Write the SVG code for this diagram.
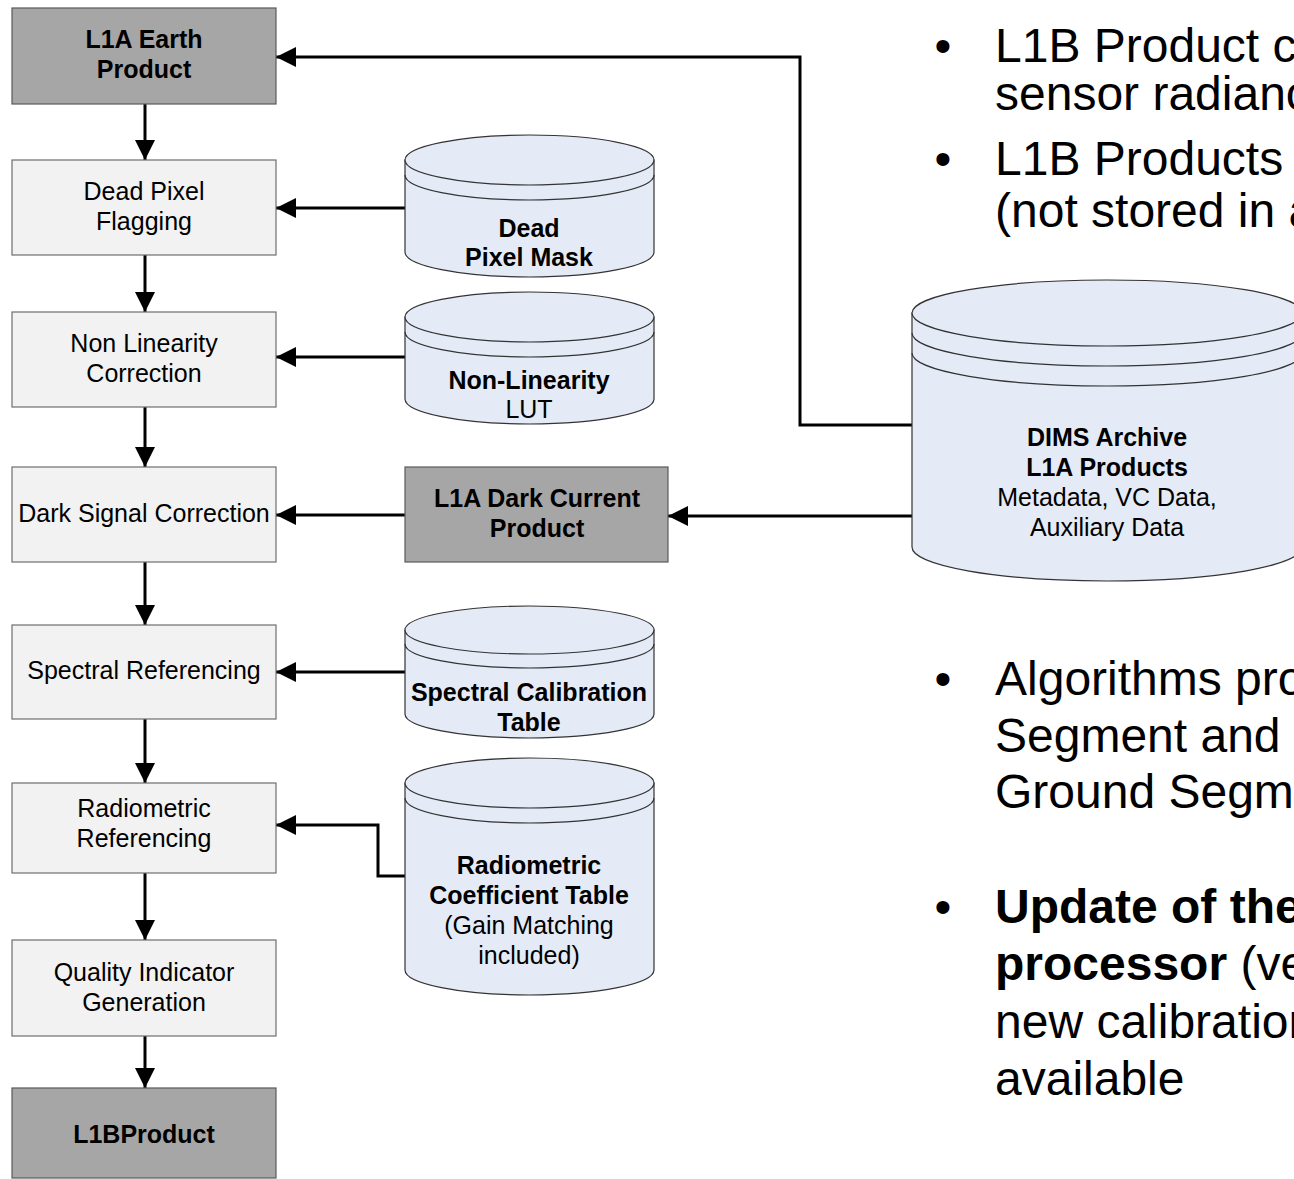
<svg xmlns="http://www.w3.org/2000/svg" width="1294" height="1179" viewBox="0 0 1294 1179">
<defs>
<marker id="ah" markerUnits="userSpaceOnUse" markerWidth="20" markerHeight="20" refX="20" refY="10" orient="auto">
<path d="M0,0 L20,10 L0,20 Z" fill="#000"/>
</marker>
<style>
text{font-family:"Liberation Sans",Arial,sans-serif;fill:#000}
.lbl{font-size:25px;text-anchor:middle}
.b{font-weight:bold}
.proc{fill:#f2f2f2;stroke:#6e6e6e;stroke-width:1.2}
.prod{fill:#a6a6a6;stroke:#5a5a5a;stroke-width:1.2}
.cyl{fill:#e5ebf6;stroke:#333;stroke-width:1.2}
.band{fill:none;stroke:#333;stroke-width:1.2}
.con{fill:none;stroke:#000;stroke-width:3;marker-end:url(#ah)}
.big{font-size:48px}
</style>
</defs>
<rect width="1294" height="1179" fill="#fff"/>

<g id="connectors">
<line class="con" x1="145" y1="104" x2="145" y2="160"/>
<line class="con" x1="145" y1="255" x2="145" y2="312"/>
<line class="con" x1="145" y1="407" x2="145" y2="467"/>
<line class="con" x1="145" y1="562" x2="145" y2="625"/>
<line class="con" x1="145" y1="719" x2="145" y2="783"/>
<line class="con" x1="145" y1="873" x2="145" y2="940"/>
<line class="con" x1="145" y1="1036" x2="145" y2="1088"/>
<line class="con" x1="405" y1="208" x2="276" y2="208"/>
<line class="con" x1="405" y1="357" x2="276" y2="357"/>
<line class="con" x1="405" y1="515" x2="276" y2="515"/>
<line class="con" x1="405" y1="672" x2="276" y2="672"/>
<polyline class="con" points="405,876 378,876 378,825 276,825"/>
<polyline class="con" points="912,425 800,425 800,57 276,57"/>
<line class="con" x1="912" y1="516" x2="668" y2="516"/>
</g>

<g id="l1a-earth">
<rect class="prod" x="12" y="8" width="264" height="96"/>
<text class="lbl b" x="144" y="48">L1A Earth</text>
<text class="lbl b" x="144" y="78">Product</text>
</g>
<g id="dead-pixel-flagging">
<rect class="proc" x="12" y="160" width="264" height="95"/>
<text class="lbl" x="144" y="200">Dead Pixel</text>
<text class="lbl" x="144" y="230">Flagging</text>
</g>
<g id="non-linearity-correction">
<rect class="proc" x="12" y="312" width="264" height="95"/>
<text class="lbl" x="144" y="352">Non Linearity</text>
<text class="lbl" x="144" y="382">Correction</text>
</g>
<g id="dark-signal-correction">
<rect class="proc" x="12" y="467" width="264" height="95"/>
<text class="lbl" x="144" y="522">Dark Signal Correction</text>
</g>
<g id="spectral-referencing">
<rect class="proc" x="12" y="625" width="264" height="94"/>
<text class="lbl" x="144" y="679">Spectral Referencing</text>
</g>
<g id="radiometric-referencing">
<rect class="proc" x="12" y="783" width="264" height="90"/>
<text class="lbl" x="144" y="817">Radiometric</text>
<text class="lbl" x="144" y="847">Referencing</text>
</g>
<g id="quality-indicator-generation">
<rect class="proc" x="12" y="940" width="264" height="96"/>
<text class="lbl" x="144" y="981">Quality Indicator</text>
<text class="lbl" x="144" y="1011">Generation</text>
</g>
<g id="l1b-product">
<rect class="prod" x="12" y="1088" width="264" height="90"/>
<text class="lbl b" x="144" y="1143">L1BProduct</text>
</g>

<g id="dead-pixel-mask">
<path class="cyl" d="M405,160 V252 A124.5,25 0 0 0 654,252 V160 Z"/>
<ellipse class="cyl" cx="529.5" cy="160" rx="124.5" ry="25"/>
<path class="band" d="M405,175 A124.5,25 0 0 0 654,175"/>
<text class="lbl b" x="529" y="237">Dead</text>
<text class="lbl b" x="529" y="266">Pixel Mask</text>
</g>
<g id="non-linearity-lut">
<path class="cyl" d="M405,317 V399 A124.5,25 0 0 0 654,399 V317 Z"/>
<ellipse class="cyl" cx="529.5" cy="317" rx="124.5" ry="25"/>
<path class="band" d="M405,332 A124.5,25 0 0 0 654,332"/>
<text class="lbl b" x="529" y="389">Non-Linearity</text>
<text class="lbl" x="529" y="418">LUT</text>
</g>
<g id="l1a-dark-current">
<rect class="prod" x="405" y="467" width="263" height="95"/>
<text class="lbl b" x="537" y="507">L1A Dark Current</text>
<text class="lbl b" x="537" y="537">Product</text>
</g>
<g id="spectral-calibration-table">
<path class="cyl" d="M405,630 V714 A124.5,24 0 0 0 654,714 V630 Z"/>
<ellipse class="cyl" cx="529.5" cy="630" rx="124.5" ry="24"/>
<path class="band" d="M405,644 A124.5,24 0 0 0 654,644"/>
<text class="lbl b" x="529" y="701">Spectral Calibration</text>
<text class="lbl b" x="529" y="731">Table</text>
</g>
<g id="radiometric-coefficient-table">
<path class="cyl" d="M405,783 V970 A124.5,25 0 0 0 654,970 V783 Z"/>
<ellipse class="cyl" cx="529.5" cy="783" rx="124.5" ry="25"/>
<path class="band" d="M405,798 A124.5,25 0 0 0 654,798"/>
<text class="lbl b" x="529" y="874">Radiometric</text>
<text class="lbl b" x="529" y="904">Coefficient Table</text>
<text class="lbl" x="529" y="934">(Gain Matching</text>
<text class="lbl" x="529" y="964">included)</text>
</g>
<g id="dims-archive">
<path class="cyl" d="M912,313 V547 A195,34 0 0 0 1302,547 V313 Z"/>
<ellipse class="cyl" cx="1107" cy="313" rx="195" ry="33"/>
<path class="band" d="M912,333 A195,33 0 0 0 1302,333"/>
<path class="band" d="M912,353 A195,33 0 0 0 1302,353"/>
<text class="lbl b" x="1107" y="446">DIMS Archive</text>
<text class="lbl b" x="1107" y="476">L1A Products</text>
<text class="lbl" x="1107" y="506">Metadata, VC Data,</text>
<text class="lbl" x="1107" y="536">Auxiliary Data</text>
</g>

<g id="notes">
<text class="big" x="943" y="62" text-anchor="middle">•</text>
<text class="big" x="995" y="62">L1B Product c</text>
<text class="big" x="995" y="110">sensor radianc</text>
<text class="big" x="943" y="175" text-anchor="middle">•</text>
<text class="big" x="995" y="175">L1B Products</text>
<text class="big" x="995" y="227">(not stored in a</text>
<text class="big" x="943" y="695" text-anchor="middle">•</text>
<text class="big" x="995" y="695">Algorithms pro</text>
<text class="big" x="995" y="752">Segment and</text>
<text class="big" x="995" y="808">Ground Segm</text>
<text class="big" x="943" y="923" text-anchor="middle">•</text>
<text class="big b" x="995" y="923">Update of the</text>
<text class="big" x="995" y="980"><tspan class="b">processor</tspan> (ve</text>
<text class="big" x="995" y="1038">new calibration</text>
<text class="big" x="995" y="1095">available</text>
</g>
</svg>
